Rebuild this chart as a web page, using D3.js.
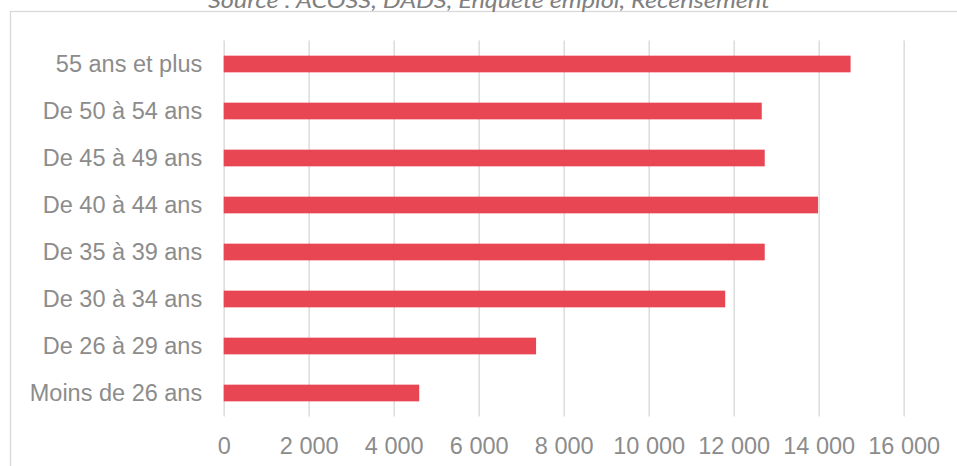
<!DOCTYPE html>
<html>
<head>
<meta charset="utf-8">
<script src="https://cdn.jsdelivr.net/npm/d3@7"></script>
<style>
  body { margin: 0; background: #fff; }
  svg { display: block; }
</style>
</head>
<body>
<div id="chart"></div>
<script>
// data (top to bottom)
var categories = ["55 ans et plus", "De 50 à 54 ans", "De 45 à 49 ans", "De 40 à 44 ans",
                  "De 35 à 39 ans", "De 30 à 34 ans", "De 26 à 29 ans", "Moins de 26 ans"];
var values = [14750, 12660, 12730, 13985, 12730, 11800, 7350, 4600];
var tickValues = [0, 2000, 4000, 6000, 8000, 10000, 12000, 14000, 16000];
var sourceText = "Source : ACOSS, DADS, Enquête emploi, Recensement";

var width = 957, height = 466;
var plotLeft = 223.7, plotRight = 903.7, plotTop = 40.5, plotBottom = 416.5;

var svg = d3.select("#chart").append("svg")
    .attr("width", width)
    .attr("height", height);

// outer frame, runs off the right and bottom edges
svg.append("rect")
    .attr("x", 10.5).attr("y", 11.5)
    .attr("width", 960).attr("height", 470)
    .attr("fill", "none")
    .attr("stroke", "#d9d9d9")
    .attr("stroke-width", 1.3);

// source line, cut off at the top
svg.append("text")
    .attr("x", 489).attr("y", 7.5)
    .attr("text-anchor", "middle")
    .attr("font-family", "Lato, 'DejaVu Sans', sans-serif")
    .attr("font-style", "italic")
    .attr("font-size", 21)
    .attr("fill", "#808080")
    .attr("textLength", 562)
    .attr("lengthAdjust", "spacingAndGlyphs")
    .text(sourceText);

var x = d3.scaleLinear().domain([0, 16000]).range([plotLeft, plotRight]);
var y = d3.scaleBand().domain(categories).range([plotTop, plotBottom])
    .paddingInner(0.645).paddingOuter(0.3225);

var fr = d3.formatLocale({decimal: ",", thousands: " ", grouping: [3], currency: ["", " €"]});
var fmt = fr.format(",d");

// gridlines + bottom labels
var xAxis = svg.append("g")
    .attr("transform", "translate(0," + plotBottom + ")")
    .call(d3.axisBottom(x).tickValues(tickValues).tickFormat(fmt)
        .tickSize(-(plotBottom - plotTop)));
xAxis.select(".domain").remove();
xAxis.selectAll(".tick line")
    .attr("stroke", "#dedede")
    .attr("stroke-width", 1.6);
xAxis.selectAll(".tick text")
    .attr("y", 37.5).attr("dy", 0)
    .attr("font-family", "'Liberation Sans', Arial, sans-serif")
    .attr("font-size", 23.5)
    .attr("fill", "#8c8c8c");

// bars
svg.append("g").selectAll("rect")
    .data(values)
    .enter()
    .append("rect")
    .attr("x", x(0))
    .attr("y", function(d, i) { return y(categories[i]); })
    .attr("width", function(d) { return x(d) - x(0); })
    .attr("height", y.bandwidth())
    .attr("fill", "#e84653");

// category labels
var yAxis = svg.append("g")
    .attr("transform", "translate(" + plotLeft + ",0)")
    .call(d3.axisLeft(y).tickSize(0).tickPadding(21.5));
yAxis.select(".domain").remove();
yAxis.selectAll(".tick text")
    .attr("font-family", "'Liberation Sans', Arial, sans-serif")
    .attr("font-size", 23.5)
    .attr("fill", "#8c8c8c");
</script>
</body>
</html>
